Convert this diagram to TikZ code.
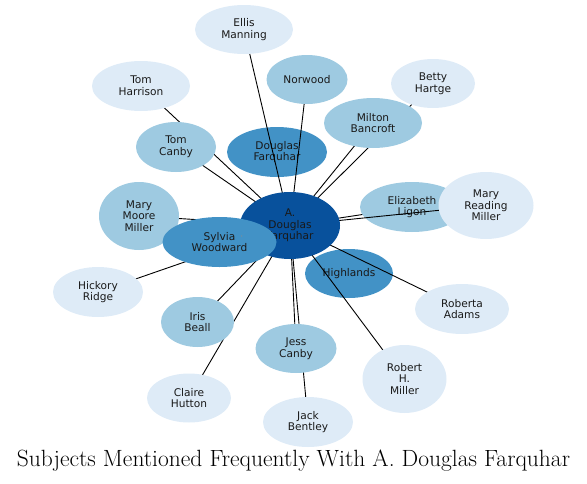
\documentclass[tikz,border=0pt]{standalone}
\usepackage{fontspec}
\newfontfamily\nodefont{DejaVu Sans}
\usetikzlibrary{shapes.geometric}
\definecolor{bdark}{HTML}{08519C}
\definecolor{bmed}{HTML}{4292C6}
\definecolor{blight}{HTML}{9ECAE1}
\definecolor{bpale}{HTML}{DEEBF7}
\pgfdeclarelayer{edgesunder}
\pgfdeclarelayer{lownodes}
\pgfdeclarelayer{edgesover}
\pgfdeclarelayer{topnodes}
\pgfsetlayers{edgesunder,lownodes,edgesover,main,topnodes}
\tikzset{
  bub/.style={ellipse, inner sep=0pt, draw=none, align=center,
    font=\nodefont\fontsize{10.6}{11.7}\selectfont, text=black!90},
  pale/.style={bub, fill=bpale},
  light/.style={bub, fill=blight},
  med/.style={bub, fill=bmed},
  dark/.style={bub, fill=bdark},
  edge/.style={black, line width=0.9pt},
}
\begin{document}
\begin{tikzpicture}[x=1pt,y=-1pt]
\useasboundingbox (0,0) rectangle (587,483);
% low nodes (edges pass over them)
\begin{pgfonlayer}{lownodes}
\node[med, minimum width=100, minimum height=50] (df) at (277,152) {Douglas\\Farquhar};
\node[light, minimum width=104, minimum height=50] (el) at (412,207) {Elizabeth\\Ligon};
\node[med, minimum width=88, minimum height=49] (hi) at (349,273.5) {Highlands};
\end{pgfonlayer}
% main nodes
\node[pale, minimum width=98, minimum height=49] (em) at (244,29.5) {Ellis\\Manning};
\node[pale, minimum width=98, minimum height=50] (th) at (141,86) {Tom\\Harrison};
\node[light, minimum width=81, minimum height=49] (nw) at (307,79.5) {Norwood};
\node[light, minimum width=80, minimum height=50] (tc) at (176,147) {Tom\\Canby};
\node[pale, minimum width=84, minimum height=49] (bh) at (433,83.5) {Betty\\Hartge};
\node[light, minimum width=98, minimum height=50] (mb) at (373,123) {Milton\\Bancroft};
\node[light, minimum width=80, minimum height=68] (mm) at (139,216) {Mary\\Moore\\Miller};
\node[pale, minimum width=95, minimum height=67] (mr) at (486,205.5) {Mary\\Reading\\Miller};
\node[pale, minimum width=90, minimum height=50] (hr) at (98,292) {Hickory\\Ridge};
\node[light, minimum width=73, minimum height=50] (ib) at (197.5,322) {Iris\\Beall};
\node[pale, minimum width=84, minimum height=49] (ch) at (189,398) {Claire\\Hutton};
\node[light, minimum width=81, minimum height=49] (jc) at (296,348.5) {Jess\\Canby};
\node[pale, minimum width=90, minimum height=50] (jb) at (308,422) {Jack\\Bentley};
\node[pale, minimum width=94, minimum height=50] (ra) at (462,309) {Roberta\\Adams};
\node[pale, minimum width=84, minimum height=68] (rm) at (404.5,379) {Robert\\H.\\Miller};
\node[dark, minimum width=100, minimum height=67] (a) at (290,225.5) {A.\\Douglas\\Farquhar};
\begin{pgfonlayer}{topnodes}
\node[med, minimum width=114, minimum height=50] (sw) at (219.5,242) {Sylvia\\Woodward};
\fill[black!45] (241.7,236) circle (0.6);
\end{pgfonlayer}
% edges under Elizabeth Ligon
\begin{pgfonlayer}{edgesunder}
\draw[edge] (a.center) -- (el.center);
\end{pgfonlayer}
% other edges
\begin{pgfonlayer}{edgesover}
\foreach \t in {em,nw,th,tc,mb,bh,mm,mr,hr,ib,ch,jc,jb,ra,rm}
  \draw[edge] (a.center) -- (\t.center);
\end{pgfonlayer}
\node[font=\fontsize{23.5}{28}\selectfont, anchor=base, inner sep=0pt] (title) at (293.5,466) {Subjects Mentioned Frequently With A. Douglas Farquhar};
\end{tikzpicture}
\end{document}
